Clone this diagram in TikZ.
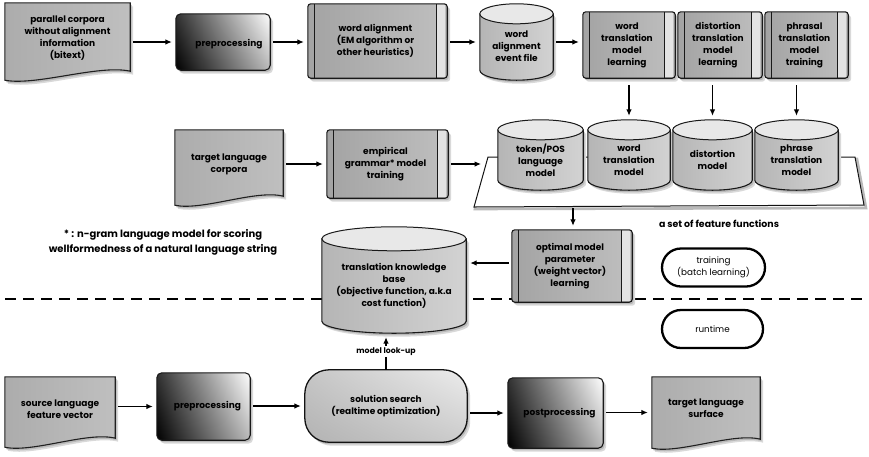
\documentclass[tikz,border=0pt]{standalone}
\usepackage{fontspec}
\setmainfont{Poppins}
\usetikzlibrary{arrows.meta,calc,fit,shapes.misc,shadings}
\pgfdeclarelayer{bglayer}
\pgfsetlayers{bglayer,main}

\newcommand\ShadowPath[1]{%
  \fill[gray!30, transform canvas={xshift=3pt,yshift=-3.5pt}] #1;
  \fill[gray!55, transform canvas={xshift=1.5pt,yshift=-2pt}] #1;}
\newcommand\DocShape[1]{%
  \begin{pgfonlayer}{bglayer}
  \ShadowPath{(#1.north west) -- (#1.north east) -- ($(#1.south east)+(0,-9)$)
    .. controls ($(#1.south)!0.5!(#1.south east)+(0,-16)$) and ($(#1.south)!0.5!(#1.south west)+(0,6)$) .. (#1.south west) -- cycle}
  \draw[docsty] (#1.north west) -- (#1.north east) -- ($(#1.south east)+(0,-9)$)
    .. controls ($(#1.south)!0.5!(#1.south east)+(0,-16)$) and ($(#1.south)!0.5!(#1.south west)+(0,6)$) .. (#1.south west) -- cycle;
  \end{pgfonlayer}}
\newcommand\ProcShape[1]{%
  \begin{pgfonlayer}{bglayer}
  \ShadowPath{[rounded corners=3pt] (#1.north west) rectangle (#1.south east)}
  \draw[procsty] (#1.north west) rectangle (#1.south east);
  \fill[gray!22] ($(#1.north east)+(-11,1.5)$) rectangle ($(#1.south east)+(-2,-1.5)$);
  \draw[line width=0.7pt, gray!20!black] ($(#1.north west)+(7,0)$) -- ($(#1.south west)+(7,0)$);
  \draw[line width=0.7pt, gray!20!black] ($(#1.north east)+(-11,0)$) -- ($(#1.south east)+(-11,0)$);
  \end{pgfonlayer}}
\newcommand\CylShape[2]{%
  \begin{pgfonlayer}{bglayer}
  \ShadowPath{let \p1=(#1.north west), \p2=(#1.south east), \n1={(\x2-\x1)/2} in
    (\x1,\y1-#2) -- (\x1,\y2+#2) arc[start angle=180,end angle=360,x radius=\n1,y radius=#2] -- (\x2,\y1-#2) -- cycle}
  \draw[cylsty] let \p1=(#1.north west), \p2=(#1.south east), \n1={(\x2-\x1)/2} in
    (\x1,\y1-#2) -- (\x1,\y2+#2) arc[start angle=180,end angle=360,x radius=\n1,y radius=#2] -- (\x2,\y1-#2) -- cycle;
  \draw[cyltop] let \p1=(#1.north west), \p2=(#1.south east), \n1={(\x2-\x1)/2} in
    ($(#1.north)+(0pt,-#2)$) ellipse[x radius=\n1, y radius=#2];
  \end{pgfonlayer}}
\newcommand\PreShape[1]{%
  \begin{pgfonlayer}{bglayer}
  \ShadowPath{[rounded corners=5pt] (#1.north west) rectangle (#1.south east)}
  \draw[presty] (#1.north west) rectangle (#1.south east);
  \end{pgfonlayer}}

\begin{document}
\begin{tikzpicture}[x=1pt,y=-1pt,
  txt/.style={font=\fontsize{9}{12}\selectfont\bfseries, align=center, inner sep=0pt},
  note/.style={font=\fontsize{10}{15}\selectfont\bfseries, align=center, inner sep=0pt},
  frame/.style={inner sep=0pt, draw=none},
  arr/.style={-{Latex[length=6.5pt,width=5.5pt]}, line width=1.1pt, shorten >=4pt, shorten <=3pt},
  docsty/.style={draw=gray!25!black, line width=1.1pt, left color=gray!65, right color=gray!50},
  procsty/.style={draw=gray!20!black, line width=1.1pt, rounded corners=3pt, left color=gray!72, right color=gray!50},
  cylsty/.style={draw=gray!20!black, line width=1.1pt, left color=gray!58, right color=gray!35},
  cyltop/.style={draw=gray!20!black, line width=1pt, fill=gray!18},
  presty/.style={draw=gray!20!black, line width=1.1pt, rounded corners=5pt, upper left=gray!40!black, upper right=white, lower left=black, lower right=gray!55},
  pill/.style={rounded rectangle, draw=black, line width=2.3pt, fill=white, inner sep=0pt, align=center, font=\fontsize{8.8}{11.5}\selectfont},
  dashsty/.style={line width=2.2pt, dash pattern=on 11pt off 7pt}
]
\useasboundingbox (0,0) rectangle (869,456);

% ---- dashed separator (behind everything)
\coordinate (dl) at (5,299);
\coordinate (dr) at (869,299);
\begin{pgfonlayer}{bglayer}
\draw[dashsty] (dl) -- (dr);
\end{pgfonlayer}

% ---- row 1
\node[frame, fit={(5,3) (130,80)}] (par) {};
\DocShape{par}
\node[txt] (part) at ($(par.center)+(0,-3)$) {parallel corpora\\without alignment\\information\\(bitext)};

\node[frame, fit={(176,14) (270,70)}] (pre1) {};
\PreShape{pre1}
\node[txt] (pre1t) at ($(pre1.center)+(6,2)$) {preprocessing};

\node[frame, fit={(308,4) (447,78)}] (wal) {};
\ProcShape{wal}
\node[txt] (walt) at ($(wal.center)+(-2,0)$) {word alignment\\(EM algorithm or\\other heuristics)};

\node[frame, fit={(480,4) (553,80)}] (wae) {};
\CylShape{wae}{10pt}
\node[txt] (waet) at ($(wae.center)+(0,4)$) {word\\alignment\\event file};

\node[frame, fit={(583,12) (675,78)}] (wtl) {};
\ProcShape{wtl}
\node[txt] (wtlt) at ($(wtl.center)+(-2,0)$) {word\\translation\\model\\learning};

\node[frame, fit={(678,12) (762,78)}] (dtl) {};
\ProcShape{dtl}
\node[txt] (dtlt) at ($(dtl.center)+(-2,0)$) {distortion\\translation\\model\\learning};

\node[frame, fit={(765,12) (848,78)}] (ptl) {};
\ProcShape{ptl}
\node[txt] (ptlt) at ($(ptl.center)+(-2,0)$) {phrasal\\translation\\model\\training};

\draw[arr] (par.east |- pre1) -- (pre1);
\draw[arr] (pre1.east) -- (pre1.east -| wal.west);
\draw[arr] (wal.east |- wae) -- (wae);
\draw[arr] (wae.east) -- (wae.east -| wtl.west);

% ---- row 2
\node[frame, fit={(175,130) (283,205)}] (tlc) {};
\DocShape{tlc}
\node[txt] (tlct) at ($(tlc.center)+(0,-3)$) {target language\\corpora};

\node[frame, fit={(327,130) (448,198)}] (emp) {};
\ProcShape{emp}
\node[txt] (empt) at ($(emp.center)+(-2,0)$) {empirical\\grammar* model\\training};

\coordinate (trayW) at (485,163);
\coordinate (trayS) at (573,207);
\begin{pgfonlayer}{bglayer}
\draw[line width=2.6pt, gray!55] (489,159) -- (857,159) -- (866,208) -- (475,209) -- cycle;
\draw[line width=1pt, gray!15!black, fill=white] (488,157) -- (855,157) -- (864,205) -- (474,207) -- cycle;
\end{pgfonlayer}

\node[frame, fit={(498,120) (583,190)}] (lm) {};
\CylShape{lm}{10pt}
\node[txt] (lmt) at ($(lm.center)+(0,5)$) {token/POS\\language\\model};

\node[frame, fit={(588,120) (670,190)}] (wtm) {};
\CylShape{wtm}{10pt}
\node[txt] (wtmt) at ($(wtm.center)+(0,5)$) {word\\translation\\model};

\node[frame, fit={(673,120) (752,190)}] (dm) {};
\CylShape{dm}{10pt}
\node[txt] (dmt) at ($(dm.center)+(0,5)$) {distortion\\model};

\node[frame, fit={(755,120) (838,190)}] (ptm) {};
\CylShape{ptm}{10pt}
\node[txt] (ptmt) at ($(ptm.center)+(0,5)$) {phrase\\translation\\model};

\node[note, font=\fontsize{9.4}{12}\selectfont\bfseries] (ffl) at (719,224) {a set of feature functions};

\draw[arr] (tlc.east |- emp) -- (emp);
\draw[arr] (emp.east) -- (emp.east -| trayW);
\draw[arr, shorten <=7pt] (wtl.south -| wtm.north) -- (wtm.north);
\draw[arr, shorten <=7pt] (dtl.south -| dm.north) -- (dm.north);
\draw[arr, shorten <=7pt] (ptl.south -| ptm.north) -- (ptm.north);

% ---- row 3
\node[frame, fit={(512,230) (632,302)}] (opt) {};
\ProcShape{opt}
\node[txt] (optt) at ($(opt.center)+(-2,0)$) {optimal model\\parameter\\(weight vector)\\learning};

\node[frame, fit={(322,227) (466,333)}] (tkb) {};
\CylShape{tkb}{12pt}
\node[txt] (tkbt) at ($(tkb.center)+(0,6)$) {translation knowledge\\base\\(objective function, a.k.a\\cost function)};

\node[note] (fn) at (163,242) {* : n-gram language model for scoring\\wellformedness of a natural language string};

\node[pill, minimum width=103pt, minimum height=38pt] (train) at (713.5,267.5) {training\\(batch learning)};
\node[pill, minimum width=101pt, minimum height=38pt] (rt) at (712.5,329) {runtime};

\draw[arr, shorten <=1pt] (trayS) -- (trayS |- opt.north);
\draw[arr] (opt.west |- 0,263) -- (tkb.east |- 0,263);

% ---- row 4
\node[frame, fit={(5,377) (115,447)}] (src) {};
\DocShape{src}
\node[txt] (srct) at ($(src.center)+(0,-3)$) {source language\\feature vector};

\node[frame, fit={(157,373) (250,440)}] (pre2) {};
\PreShape{pre2}
\node[txt] (pre2t) at ($(pre2.center)+(4,0)$) {preprocessing};

\node[frame, fit={(305,370) (467,442)}] (sol) {};
\begin{pgfonlayer}{bglayer}
\ShadowPath{[rounded corners=24pt] (sol.north west) rectangle (sol.south east)}
\draw[line width=1.3pt, draw=gray!15!black, rounded corners=24pt, upper left=gray!45, upper right=gray!15, lower left=gray!60, lower right=gray!40] (sol.north west) rectangle (sol.south east);
\end{pgfonlayer}
\node[txt] (solt) at (sol.center) {solution search\\(realtime optimization)};

\node[frame, fit={(508,378) (603,448)}] (post) {};
\PreShape{post}
\node[txt] (postt) at ($(post.center)+(4,0)$) {postprocessing};

\node[frame, fit={(652,377) (760,448)}] (tls) {};
\DocShape{tls}
\node[txt] (tlst) at ($(tls.center)+(0,-4)$) {target language\\surface};

\draw[arr] (src.east |- pre2) -- (pre2);
\draw[arr] (pre2.east |- sol) -- (sol);
\draw[arr] (sol.east |- post) -- (post);
\draw[arr] (post.east |- tls) -- (tls);

\draw[arr, shorten <=0pt] (sol.north) -- (sol.north |- tkb.south)
  node[midway, fill=white, inner sep=1.5pt, font=\fontsize{7.8}{9}\selectfont\bfseries] (lk) {model look-up};
\end{tikzpicture}
\end{document}
